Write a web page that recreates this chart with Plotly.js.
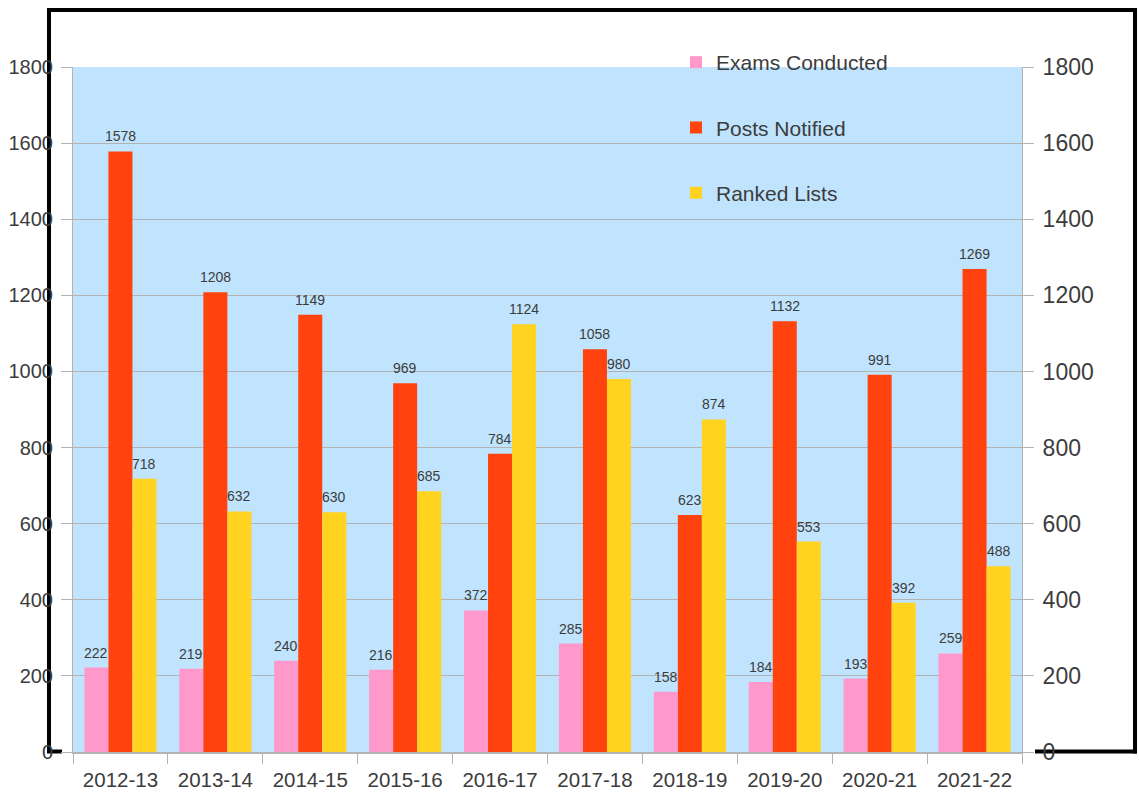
<!DOCTYPE html>
<html>
<head>
<meta charset="utf-8">
<script src="https://cdn.plot.ly/plotly-3.0.1.min.js"></script>
<style>html,body{margin:0;padding:0;background:#fff;}#chart{width:1139px;height:797px;}</style>
</head>
<body>
<div id="chart"></div>
<script>
const categories = ["2012-13","2013-14","2014-15","2015-16","2016-17","2017-18","2018-19","2019-20","2020-21","2021-22"];
const examsConducted = [222, 219, 240, 216, 372, 285, 158, 184, 193, 259];
const postsNotified = [1578, 1208, 1149, 969, 784, 1058, 623, 1132, 991, 1269];
const rankedLists = [718, 632, 630, 685, 1124, 980, 874, 553, 392, 488];
const seriesNames = ["Exams Conducted", "Posts Notified", "Ranked Lists"];
const yTicks = [0, 200, 400, 600, 800, 1000, 1200, 1400, 1600, 1800];

const colors = ["#ff99cc", "#ff420e", "#ffd320"];
const seriesValues = [examsConducted, postsNotified, rankedLists];
const font = "Liberation Sans, Arial, sans-serif";

const traces = seriesValues.map((vals, i) => ({
  type: "bar",
  name: seriesNames[i],
  x: categories,
  y: vals,
  marker: {color: colors[i], line: {width: 0}},
  legendgroup: "g" + i,
  hoverinfo: "x+y+name"
}));
// invisible companion traces so the extra axes are drawn
["y2", "y3"].forEach(ax => traces.push({
  type: "scatter", mode: "none", x: categories, y: postsNotified,
  yaxis: ax, showlegend: false, hoverinfo: "skip"
}));

const barPx = 24;
const annotations = [];
seriesValues.forEach((vals, i) => {
  vals.forEach((v, j) => {
    annotations.push({
      x: categories[j], y: v, xref: "x", yref: "y",
      text: String(v), showarrow: false,
      xshift: (i - 1) * barPx, yshift: 15,
      font: {family: font, size: 14, color: "#3c3c3c"}
    });
  });
});

const L = 73, R = 1022, T = 67, B = 752;
const W = R - L, H = B - T;
const px = x => (x - L) / W;
const py = y => (B - y) / H;
const frame = {type: "line", xref: "paper", yref: "paper", layer: "below", line: {color: "#000", width: 4}};
const shapes = [
  Object.assign({}, frame, {x0: px(49), x1: px(49), y0: py(752), y1: py(8)}),
  Object.assign({}, frame, {x0: px(47), x1: px(1137), y0: py(10), y1: py(10)}),
  Object.assign({}, frame, {x0: px(1135), x1: px(1135), y0: py(8), y1: py(753.5)}),
  Object.assign({}, frame, {x0: px(47), x1: px(62), y0: py(751.5), y1: py(751.5)}),
  Object.assign({}, frame, {x0: px(1035), x1: px(1137), y0: py(751.5), y1: py(751.5)})
];

const layout = {
  width: 1139, height: 797,
  margin: {l: L, r: 1139 - R, t: T, b: 797 - B, pad: 0},
  paper_bgcolor: "#ffffff",
  plot_bgcolor: "#c0e4fd",
  barmode: "group",
  bargap: 0.24,
  bargroupgap: 0,
  showlegend: true,
  legend: {
    x: px(676), y: 1 + (T - 42) / H, xanchor: "left", yanchor: "top",
    bgcolor: "rgba(0,0,0,0)", tracegroupgap: 35,
    font: {family: font, size: 21, color: "#3c3c3c"},
    traceorder: "grouped"
  },
  xaxis: {
    type: "category",
    tickson: "boundaries",
    ticks: "outside", ticklen: 10, tickcolor: "#b3b3b3", tickwidth: 1,
    showline: true, linecolor: "#b3b3b3", linewidth: 2,
    showgrid: false,
    tickfont: {family: font, size: 20.5, color: "#3c3c3c"},
    ticklabelstandoff: 8,
    fixedrange: true
  },
  yaxis: {
    range: [0, 1800], tickvals: yTicks, ticktext: yTicks.map(String),
    ticks: "outside", ticklen: 15, tickcolor: "rgba(0,0,0,0)",
    showline: true, linecolor: "#b3b3b3", linewidth: 1,
    showgrid: true, gridcolor: "#b3b3b3", gridwidth: 1,
    zeroline: false,
    tickfont: {family: font, size: 20, color: "#3c3c3c"},
    fixedrange: true
  },
  yaxis3: {
    overlaying: "y", side: "left", anchor: "x",
    range: [0, 1800], tickvals: yTicks,
    ticks: "outside", ticklen: 11, tickcolor: "#b3b3b3",
    showticklabels: false, showline: false, showgrid: false, zeroline: false,
    fixedrange: true
  },
  yaxis2: {
    overlaying: "y", side: "right", anchor: "x",
    range: [0, 1800], tickvals: yTicks, ticktext: yTicks.map(String),
    ticks: "outside", ticklen: 11, tickcolor: "#b3b3b3",
    showline: true, linecolor: "#b3b3b3", linewidth: 1,
    showgrid: false, zeroline: false,
    tickfont: {family: font, size: 23, color: "#3c3c3c"},
    ticklabelstandoff: 4,
    fixedrange: true
  },
  annotations: annotations,
  shapes: shapes
};

Plotly.newPlot("chart", traces, layout, {displayModeBar: false, staticPlot: true});
</script>
</body>
</html>
